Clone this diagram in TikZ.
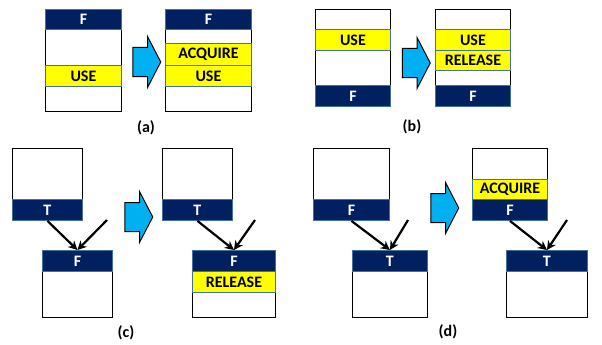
\documentclass[tikz,border=0pt]{standalone}
\usepackage{fontspec}
\setmainfont{Carlito}
\usetikzlibrary{shapes.arrows,arrows.meta,positioning}
\definecolor{navy}{RGB}{0,32,96}
\definecolor{rim}{RGB}{65,113,156}
\definecolor{band}{RGB}{255,255,0}
\definecolor{sky}{RGB}{0,176,240}

\tikzset{
  cell/.style 2 args={rectangle, anchor=north west, inner sep=0pt,
    minimum width=#1pt, minimum height=#2pt},
  frame/.style={draw=black, line width=1.3pt, fill=white},
  hdr/.style={draw=rim, line width=0.9pt, fill=navy, text=white},
  op/.style={draw=rim, line width=0.9pt, fill=band, text=black},
  step arrow/.style={single arrow, draw=black, line width=1pt, fill=sky,
    inner xsep=0pt, inner ysep=14pt, minimum height=28pt,
    single arrow head extend=11pt, single arrow tip angle=125},
  link/.style={-{Stealth[length=9pt,width=9pt]}, line width=2.2pt}
}

\begin{document}
\begin{tikzpicture}[x=1pt, y=-1pt, every node/.style={font=\bfseries\fontsize{16}{18}\selectfont}]
  \useasboundingbox (0,0) rectangle (602,345);

  % (a) ACQUIRE inserted above USE
  \node[cell={76}{102}, frame] (aLbox) at (45,9) {};
  \node[cell={76}{20}, hdr] (aLhead) at (45,9) {F};
  \node[cell={76}{21}, op] (aLuse) at (45,65) {USE};
  \node[step arrow] (aStep) at (143,62) {};
  \node[cell={86}{102}, frame] (aRbox) at (165,9) {};
  \node[cell={86}{20}, hdr] (aRhead) at (165,9) {F};
  \node[cell={86}{22}, op] (aRacq) at (165,43) {ACQUIRE};
  \node[cell={86}{21}, op] (aRuse) at (165,65) {USE};
  \node (aTag) at (146,128) {(a)};

  % (b) RELEASE inserted below USE
  \node[cell={75}{97}, frame] (bLbox) at (315,9) {};
  \node[cell={75}{21}, op] (bLuse) at (315,29) {USE};
  \node[cell={75}{21}, hdr] (bLhead) at (315,85) {F};
  \node[step arrow] (bStep) at (412.5,63) {};
  \node[cell={75}{97}, frame] (bRbox) at (435,9) {};
  \node[cell={75}{21}, op] (bRuse) at (435,29) {USE};
  \node[cell={75}{20}, op] (bRrel) at (435,50) {RELEASE};
  \node[cell={75}{21}, hdr] (bRhead) at (435,85) {F};
  \node (bTag) at (412,127) {(b)};

  % (c) T above F
  \node[cell={70}{72}, frame] (cLUbox) at (12,148) {};
  \node[cell={70}{21}, hdr] (cLUhead) at (12,199) {T};
  \node[cell={70}{67}, frame] (cLLbox) at (42,250) {};
  \node[cell={70}{21}, hdr] (cLLhead) at (42,250) {F};
  \coordinate (cLin) at (107,220);
  \draw[link] (cLUhead.south) -- (cLLhead.north);
  \draw[link] (cLin) -- (cLLhead.north);
  \node[step arrow] (cStep) at (135,217) {};
  \node[cell={70}{72}, frame] (cRUbox) at (162,148) {};
  \node[cell={70}{21}, hdr] (cRUhead) at (162,199) {T};
  \node[cell={83}{67}, frame] (cRLbox) at (192,250) {};
  \node[cell={83}{21}, hdr] (cRLhead) at (192,250) {F};
  \node[cell={83}{21}, op] (cRLrel) at (192,271) {RELEASE};
  \coordinate (cRin) at (255,220);
  \draw[link] (cRUhead.south) -- (cRLhead.north);
  \draw[link] (cRin) -- (cRLhead.north);
  \node (cTag) at (126,333) {(c)};

  % (d) F above T
  \node[cell={76}{72}, frame] (dLUbox) at (313,148) {};
  \node[cell={76}{21}, hdr] (dLUhead) at (313,199) {F};
  \node[cell={75}{67}, frame] (dLLbox) at (352,250) {};
  \node[cell={75}{21}, hdr] (dLLhead) at (352,250) {T};
  \coordinate (dLin) at (408,220);
  \draw[link] (dLUhead.south) -- (dLLhead.north);
  \draw[link] (dLin) -- (dLLhead.north);
  \node[step arrow] (dStep) at (441,208) {};
  \node[cell={75}{72}, frame] (dRUbox) at (472,148) {};
  \node[cell={75}{20}, op] (dRUacq) at (472,179) {ACQUIRE};
  \node[cell={75}{21}, hdr] (dRUhead) at (472,199) {F};
  \node[cell={81}{67}, frame] (dRLbox) at (506,250) {};
  \node[cell={81}{21}, hdr] (dRLhead) at (506,250) {T};
  \coordinate (dRin) at (567,220);
  \draw[link] (dRUhead.south) -- (dRLhead.north);
  \draw[link] (dRin) -- (dRLhead.north);
  \node (dTag) at (448,332) {(d)};
\end{tikzpicture}
\end{document}
